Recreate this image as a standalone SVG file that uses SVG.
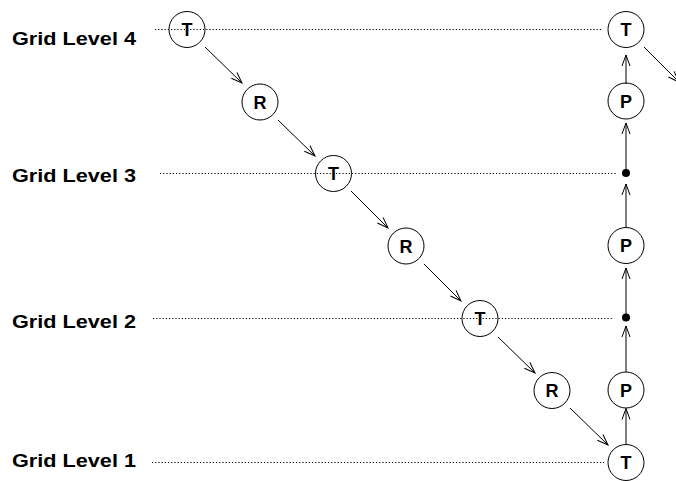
<svg xmlns="http://www.w3.org/2000/svg" width="676" height="481" viewBox="0 0 676 481">
<style>
.lbl{font-family:"Liberation Sans",Arial,sans-serif;font-weight:bold;font-size:19px;fill:#000}
.nt{font-family:"Liberation Sans",Arial,sans-serif;font-weight:bold;font-size:18px;fill:#000;text-anchor:middle}
.node{fill:none;stroke:#000;stroke-width:1}
.grid{stroke:#000;stroke-width:1;stroke-dasharray:1.2 2;fill:none}
.arr{stroke:#000;stroke-width:1;fill:none;marker-end:url(#ah)}
</style>
<defs>
<marker id="ah" markerUnits="userSpaceOnUse" markerWidth="14" markerHeight="12" viewBox="-13 -6 14 12" refX="0" refY="0" orient="auto" overflow="visible">
<path d="M-11,-4 L0,0 L-11,4" fill="none" stroke="#000" stroke-width="1"/>
</marker>
</defs>
<g id="labels">
<text class="lbl" x="12" y="45" textLength="124" lengthAdjust="spacingAndGlyphs">Grid Level 4</text>
<text class="lbl" x="12" y="181.5" textLength="124" lengthAdjust="spacingAndGlyphs">Grid Level 3</text>
<text class="lbl" x="12" y="327.5" textLength="124" lengthAdjust="spacingAndGlyphs">Grid Level 2</text>
<text class="lbl" x="12" y="466.5" textLength="124" lengthAdjust="spacingAndGlyphs">Grid Level 1</text>
</g>
<g id="gridlines">
<line class="grid" x1="155" y1="29.5" x2="602" y2="29.5"/>
<line class="grid" x1="160" y1="173.5" x2="616" y2="173.5"/>
<line class="grid" x1="153" y1="318.5" x2="612" y2="318.5"/>
<line class="grid" x1="152" y1="462.5" x2="604" y2="462.5"/>
</g>
<g id="connectors">
<line class="arr" x1="205" y1="47" x2="242" y2="83"/>
<line class="arr" x1="278" y1="120" x2="315" y2="156"/>
<line class="arr" x1="351" y1="191" x2="388" y2="228"/>
<line class="arr" x1="424" y1="264" x2="461" y2="301"/>
<line class="arr" x1="498" y1="337" x2="535" y2="373"/>
<line class="arr" x1="570" y1="408" x2="608" y2="445"/>
<line class="arr" x1="644" y1="47" x2="679" y2="82"/>
<line class="arr" x1="626" y1="444" x2="626" y2="408.5"/>
<line class="arr" x1="626" y1="372" x2="626" y2="326"/>
<line class="arr" x1="626" y1="314" x2="626" y2="268"/>
<line class="arr" x1="626" y1="227" x2="626" y2="184"/>
<line class="arr" x1="626" y1="170" x2="626" y2="123"/>
<line class="arr" x1="626" y1="84" x2="626" y2="55"/>
</g>
<g id="n-t4"><circle class="node" cx="187" cy="29.5" r="18"/><text class="nt" x="187" y="36">T</text></g>
<g id="n-r3"><circle class="node" cx="260" cy="102" r="18"/><text class="nt" x="260" y="108.5">R</text></g>
<g id="n-t3"><circle class="node" cx="333.5" cy="173.5" r="18"/><text class="nt" x="333.5" y="180">T</text></g>
<g id="n-r2"><circle class="node" cx="406" cy="246" r="18"/><text class="nt" x="406" y="252.5">R</text></g>
<g id="n-t2"><circle class="node" cx="480" cy="318.5" r="18"/><text class="nt" x="480" y="325">T</text></g>
<g id="n-r1"><circle class="node" cx="552" cy="390.5" r="18"/><text class="nt" x="552" y="397">R</text></g>
<g id="n-t1"><circle class="node" cx="626" cy="462.5" r="18"/><text class="nt" x="626" y="469">T</text></g>
<g id="n-p1"><circle class="node" cx="626" cy="390" r="18"/><text class="nt" x="626" y="396.5">P</text></g>
<g id="n-d2"><circle cx="626" cy="317.5" r="4" fill="#000"/></g>
<g id="n-p2"><circle class="node" cx="626" cy="245.5" r="18"/><text class="nt" x="626" y="252">P</text></g>
<g id="n-d3"><circle cx="626" cy="173" r="4" fill="#000"/></g>
<g id="n-p3"><circle class="node" cx="626" cy="101" r="18"/><text class="nt" x="626" y="107.5">P</text></g>
<g id="n-t4r"><circle class="node" cx="626" cy="29.5" r="18"/><text class="nt" x="626" y="36">T</text></g>
</svg>
